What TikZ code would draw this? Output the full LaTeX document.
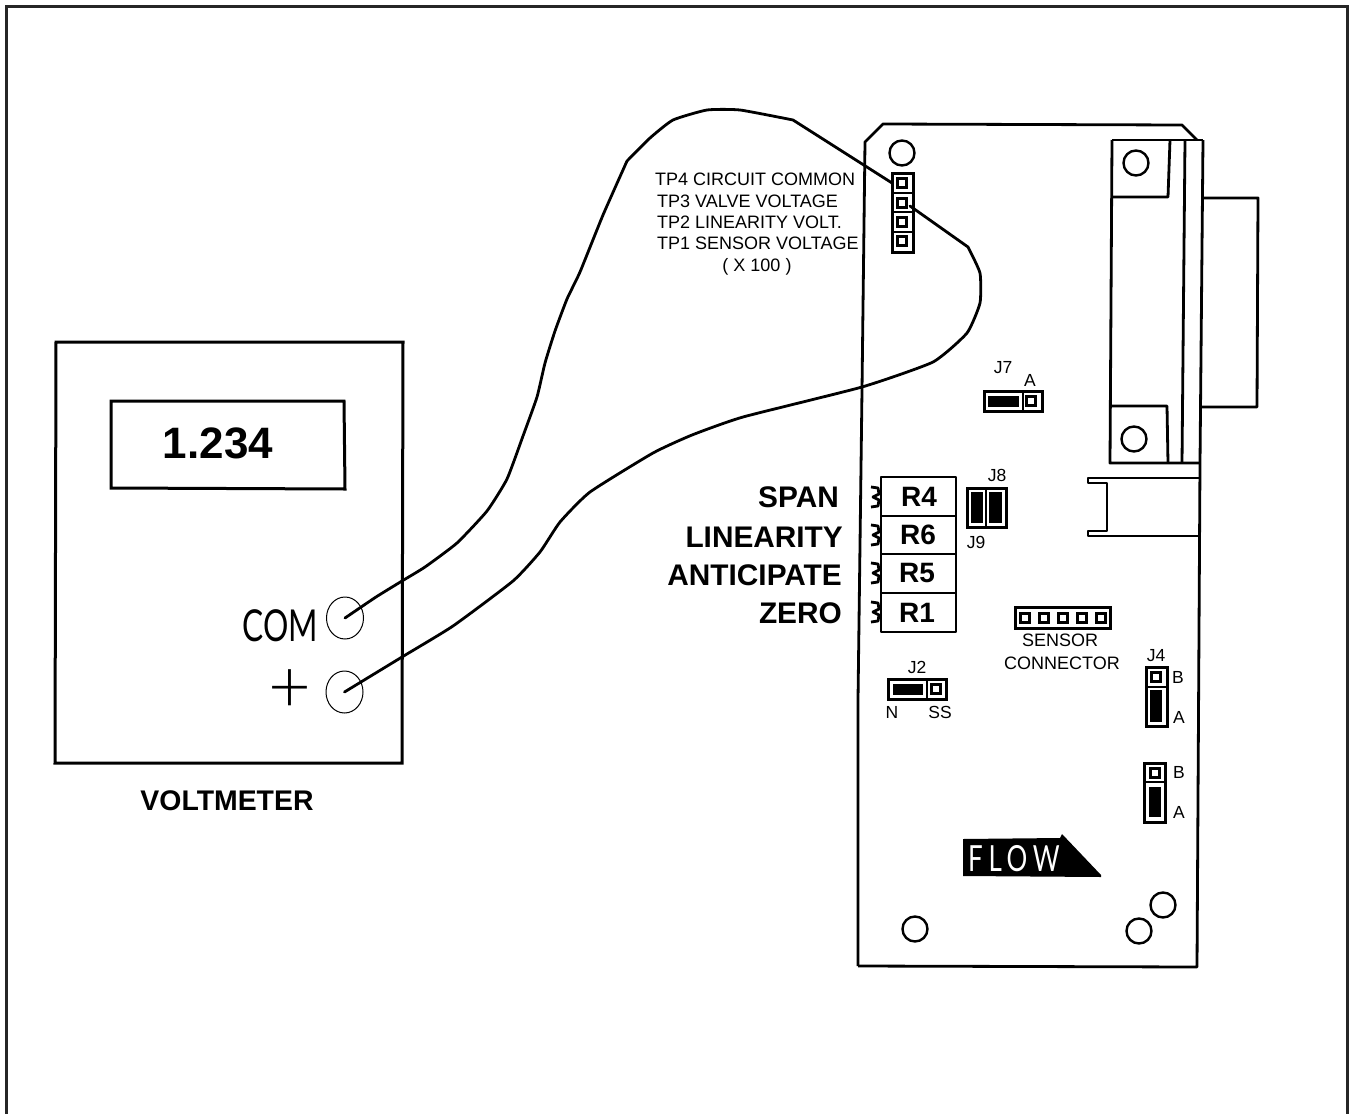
\documentclass[tikz,border=0pt]{standalone}
\usepackage{fontspec}
\setmainfont{Liberation Sans}
\newfontfamily\thinfont{Lato Light}
\newfontfamily\comfont{Lato}
\usetikzlibrary{shapes.geometric}
\tikzset{
  frameline/.style={draw=black!85,line width=3pt},
  boxline/.style={draw=black,line width=3pt,line join=miter},
  board/.style={draw=black,line width=2.8pt,line join=round},
  wire/.style={draw=black,line width=2.8pt,line join=round,line cap=round},
  jack/.style={draw=black,line width=1pt,ellipse,minimum width=37pt,minimum height=42pt,inner sep=0pt},
  hole/.style={draw=black,line width=2.4pt,circle,minimum size=25pt,inner sep=0pt},
  pad/.style={draw=black,line width=2.6pt,rectangle,minimum size=9pt,inner sep=0pt},
  hdr/.style={draw=black,line width=3pt},
  jump/.style={fill=black},
  small/.style={inner sep=0pt,font=\fontsize{18}{18}\selectfont},
  tiny/.style={inner sep=0pt,font=\fontsize{17.5}{17.5}\selectfont},
  big/.style={inner sep=0pt,font=\bfseries\fontsize{29.8}{30}\selectfont},
  rlabel/.style={inner sep=0pt,font=\bfseries\fontsize{28}{28}\selectfont},
}
\begin{document}
\begin{tikzpicture}[x=1pt,y=-1pt]
\useasboundingbox (0,0) rectangle (1350,1114);
% outer frame, open at the bottom
\draw[frameline] (6,1116) -- (6,6) -- (1347,6) -- (1347,1116);
% voltmeter
\draw[boxline] (56,342) -- (403,342) -- (402,763) -- (55,763) -- cycle;
\draw[boxline] (111,401) -- (344,401) -- (345,489) -- (111,488) -- cycle;
\node[inner sep=0pt,font=\bfseries\fontsize{44}{44}\selectfont] (reading) at (218,443) {1.234};
\node[inner sep=0pt,font=\comfont\fontsize{44}{44}\selectfont,xscale=.72] (comlabel) at (280,626) {COM};
\node[inner sep=0pt,font=\thinfont\fontsize{74}{74}\selectfont] (pluslabel) at (290,691) {+};
\node[jack] (comjack) at (345,618) {};
\node[jack] (plusjack) at (344.5,692) {};
\node[inner sep=0pt,font=\bfseries\fontsize{28.4}{29}\selectfont] (vm) at (227,801) {VOLTMETER};
% board outline
\draw[board] (858,966) -- (858,700) -- (862,390) -- (865,142) -- (883,124) -- (1182,125) -- (1197,140);
\draw[board] (1203,140) -- (1200,463) -- (1197,967) -- (858,966);
% connector
\draw[board] (1112,140) -- (1203,140);
\draw[board] (1112,140) -- (1110,463) -- (1200,463);
\draw[board] (1113,197) -- (1168,197) -- (1170,140);
\draw[board] (1112,406) -- (1167,406) -- (1168,463);
\draw[board] (1185,140) -- (1182,463);
\draw[board] (1203,198) -- (1258,198) -- (1257,407) -- (1202,407);
\draw[board] (1200,478) -- (1088,478) -- (1088,483) -- (1107,483) -- (1107,531) -- (1088,531) -- (1088,536) -- (1199,536);
\node[hole] (h1) at (1136,163) {};
\node[hole] (h2) at (1134,439) {};
\node[hole] (h3) at (902,153) {};
\node[hole] (h4) at (915,929) {};
\node[hole] (h5) at (1163,905) {};
\node[hole] (h6) at (1139,931) {};
% test points
\draw[hdr] (892,173) rectangle (913,252);
\draw[line width=2pt] (892,193) -- (913,193) (892,212) -- (913,212) (892,232) -- (913,232);
\node[pad] (tp4) at (902,183) {};
\node[pad] (tp3) at (902,203) {};
\node[pad] (tp2) at (902,222) {};
\node[pad] (tp1) at (902,241) {};
\node[small,anchor=west] (t4) at (655,179) {TP4 CIRCUIT COMMON};
\node[small,anchor=west] (t3) at (657,201) {TP3 VALVE VOLTAGE};
\node[small,anchor=west] (t2) at (657,222) {TP2 LINEARITY VOLT.};
\node[small,anchor=west] (t1) at (657,243) {TP1 SENSOR VOLTAGE};
\node[small] (t0) at (757,267) {( X 100 )};
% J7
\node[tiny] (j7) at (1003,368) {J7};
\node[tiny] (j7a) at (1030,380) {A};
\draw[hdr] (984,391) rectangle (1042,411);
\draw[line width=2pt] (1023,391) -- (1023,411);
\fill[jump] (988,396) rectangle (1019,407);
\node[pad] (j7p) at (1031,401) {};
% R block
\draw[board] (881,477) rectangle (956,632);
\draw[board] (881,516) -- (956,516) (881,554) -- (956,554) (881,593) -- (956,593);
\node[rlabel] (r4) at (919,497) {R4};
\node[rlabel] (r6) at (918,535) {R6};
\node[rlabel] (r5) at (917,573) {R5};
\node[rlabel] (r1) at (917,613) {R1};
\foreach \y in {497,535,573,612}
  \draw[line width=2.8pt,line join=round] (871,\y-10) -- (878,\y-9) -- (879,\y-3) -- (873,\y) -- (879,\y+3) -- (878,\y+9) -- (871,\y+10);
\node[big,anchor=east] (span) at (839,497) {SPAN};
\node[big,anchor=east] (lin) at (843,537) {LINEARITY};
\node[big,anchor=east] (ant) at (842,575) {ANTICIPATE};
\node[big,anchor=east] (zero) at (842,613) {ZERO};
% J8 J9
\node[tiny] (j8) at (997,475) {J8};
\node[tiny] (j9) at (976,542) {J9};
\draw[hdr] (967,488) rectangle (1006,527);
\draw[line width=2pt] (986,488) -- (986,527);
\fill[jump] (971,492) rectangle (983,523);
\fill[jump] (989,492) rectangle (1002,523);
% sensor connector
\draw[hdr] (1015,607) rectangle (1110,628);
\foreach \x/\n in {1025/a,1044/b,1063/c,1082/d,1101/e}
  \node[pad] (s\n) at (\x,618) {};
\node[small] (sen) at (1060,640) {SENSOR};
\node[small] (con) at (1062,663) {CONNECTOR};
% J2
\node[tiny] (j2) at (917,667) {J2};
\draw[hdr] (888,679) rectangle (946,699);
\draw[line width=2pt] (927,679) -- (927,699);
\fill[jump] (893,684) rectangle (923,695);
\node[pad] (j2p) at (936,689) {};
\node[tiny] (j2n) at (892,712) {N};
\node[tiny] (j2s) at (940,712) {SS};
% J4
\node[tiny] (j4) at (1156,656) {J4};
\draw[hdr] (1146,667) rectangle (1167,726);
\draw[line width=2pt] (1146,687) -- (1167,687);
\fill[jump] (1150,690) rectangle (1162,722);
\node[pad] (j4p) at (1156,677) {};
\node[tiny] (j4b) at (1178,677) {B};
\node[tiny] (j4a) at (1179,717) {A};
% second header
\draw[hdr] (1144,763) rectangle (1165,822);
\draw[line width=2pt] (1144,782) -- (1165,782);
\fill[jump] (1149,787) rectangle (1161,817);
\node[pad] (j5p) at (1155,773) {};
\node[tiny] (j5b) at (1179,772) {B};
\node[tiny] (j5a) at (1179,812) {A};
% flow arrow
\fill (963,839) -- (1060,838) -- (1062,834) -- (1101,875) -- (1101,877) -- (963,876) -- cycle;
\node[inner sep=0pt,text=white,font=\comfont\fontsize{36}{36}\selectfont,xscale=.72,anchor=west] (flow) at (968,859) {\addfontfeature{LetterSpace=22}FLOW};
% wires
\coordinate (tp4end) at (892,183);
\coordinate (tp3end) at (910,206);
\draw[wire] plot[smooth,tension=.3] coordinates {(comjack.center) (376,597) (402,581) (425,567) (457,543) (487,511) (507,479) (523,436) (537,397) (545,363) (555,331) (567,299) (580,272) (603,215) (627,161)};
\draw[wire] plot[smooth,tension=.3] coordinates {(627,161) (650,138) (673,120) (707,110) (740,110) (793,120)} -- (tp4end);
\draw[wire] plot[smooth,tension=.3] coordinates {(plusjack.center) (402,657) (453,626) (513,581) (540,552) (560,522) (590,492) (653,453) (692,435) (743,417) (862,387) (933,362) (967,333) (980,303) (980,273) (968,247)} -- (tp3end);
\end{tikzpicture}
\end{document}
